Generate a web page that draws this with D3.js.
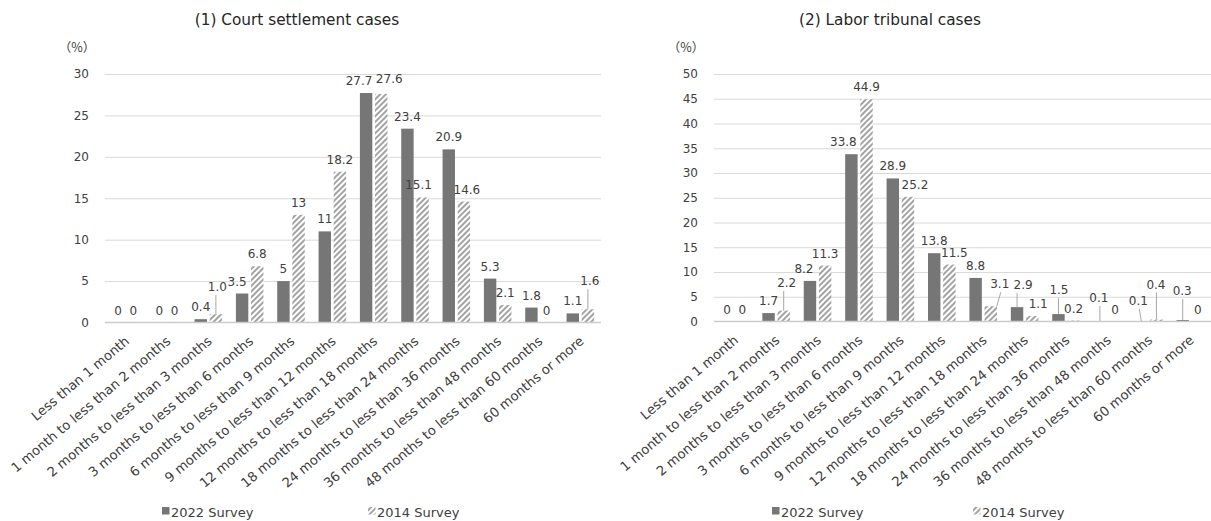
<!DOCTYPE html>
<html>
<head>
<meta charset="utf-8">
<script src="https://cdn.jsdelivr.net/npm/d3@7/dist/d3.min.js"></script>
<style>
  html, body { margin: 0; padding: 0; background: #ffffff; }
  svg { display: block; font-family: "DejaVu Sans", "Noto Sans", sans-serif; }
</style>
</head>
<body>
<svg id="chart" width="1211" height="521"></svg>
<script>
// Duration categories (shared by both panels)
const categories = [
  "Less than 1 month",
  "1 month to less than 2 months",
  "2 months to less than 3 months",
  "3 months to less than 6 months",
  "6 months to less than 9 months",
  "9 months to less than 12 months",
  "12 months to less than 18 months",
  "18 months to less than 24 months",
  "24 months to less than 36 months",
  "36 months to less than 48 months",
  "48 months to less than 60 months",
  "60 months or more"
];
const seriesNames = ["2022 Survey", "2014 Survey"];

// Shares (%), written as they are printed on the bars
const court2022 = ["0", "0", "0.4", "3.5", "5", "11", "27.7", "23.4", "20.9", "5.3", "1.8", "1.1"];
const court2014 = ["0", "0", "1.0", "6.8", "13", "18.2", "27.6", "15.1", "14.6", "2.1", "0", "1.6"];
const labor2022 = ["0", "1.7", "8.2", "33.8", "28.9", "13.8", "8.8", "2.9", "1.5", "0.1", "0.1", "0.3"];
const labor2014 = ["0", "2.2", "11.3", "44.9", "25.2", "11.5", "3.1", "1.1", "0.2", "0", "0.4", "0"];

const courtTicks = [0, 5, 10, 15, 20, 25, 30];
const laborTicks = [0, 5, 10, 15, 20, 25, 30, 35, 40, 45, 50];

const titles = ["(1) Court settlement cases", "(2) Labor tribunal cases"];
const unitLabel = "（%）";

// Label placement tweaks: dx/dy shift a label, lift raises it above the
// bar top and draws a leader line back to the bar.
const courtLabelTweaks = {
  "2022 Survey": { 3: { dx: -5 }, 6: { dx: -7 } },
  "2014 Survey": { 2: { dx: 1.5, lift: 23 }, 6: { dx: 8, dy: -3 }, 7: { dx: -4 }, 8: { dx: 3 }, 11: { dx: 2, lift: 24 } }
};
const laborLabelTweaks = {
  "2022 Survey": {
    2: { dx: -6 }, 3: { dx: -8 },
    7: { dx: 6, lift: 18 },
    8: { dx: 0.5, lift: 20 },
    9: { dx: -1, lift: 19 },
    10: { dx: -3, lift: 16, lx0: -2, lx1: 0 },
    11: { dx: -0.5, lift: 25 }
  },
  "2014 Survey": {
    1: { dx: 3, lift: 23.5 },
    4: { dx: 7 }, 5: { dx: 5 },
    6: { dx: 9, lift: 18, lx0: 10, lx1: 6 },
    7: { dx: 6 },
    10: { dx: -0.5, lift: 31 }
  }
};

const panels = [
  { title: titles[0], series: [court2022, court2014], ticks: courtTicks, tweaks: courtLabelTweaks,
    left: 105, right: 601, top: 74, bottom: 322.5, titleX: 297, unitX: 77, legendX: [162, 368] },
  { title: titles[1], series: [labor2022, labor2014], ticks: laborTicks, tweaks: laborLabelTweaks,
    left: 714, right: 1211, top: 74, bottom: 321.5, titleX: 890, unitX: 686, legendX: [772, 973] }
];

const colors = { solid: "#767676", hatch: "#a3a3a3", grid: "#d9d9d9", axis: "#cccccc", text: "#404040" };
const sizes = { tick: 12, label: 12, cat: 13.2, legend: 13, title: 15.3, unit: 12.5 };
const catAngle = -40;

const svg = d3.select("#chart");

// Diagonal stripe fill for the 2014 series
const defs = svg.append("defs");
const pat = defs.append("pattern")
  .attr("id", "hatch")
  .attr("patternUnits", "userSpaceOnUse")
  .attr("width", 4).attr("height", 4)
  .attr("patternTransform", "rotate(45)");
pat.append("rect").attr("width", 4).attr("height", 4).attr("fill", "#ffffff");
pat.append("rect").attr("width", 2).attr("height", 4).attr("fill", colors.hatch);

const fills = [colors.solid, "url(#hatch)"];

panels.forEach(p => {
  const g = svg.append("g");
  const maxV = p.ticks[p.ticks.length - 1];

  const x0 = d3.scaleBand().domain(categories).range([p.left, p.right])
    .paddingInner(0.334).paddingOuter(0.167);
  const x1 = d3.scaleBand().domain(seriesNames).range([0, x0.bandwidth()]).paddingInner(0.18);
  const y = d3.scaleLinear().domain([0, maxV]).range([p.bottom, p.top]);

  // Title and unit
  g.append("text").attr("x", p.titleX).attr("y", 25).attr("text-anchor", "middle")
    .attr("font-size", sizes.title).attr("fill", "#262626").text(p.title);
  g.append("text").attr("x", p.unitX).attr("y", 52).attr("text-anchor", "middle")
    .attr("font-size", sizes.unit).attr("fill", colors.text)
    .attr("font-family", "'Noto Sans CJK JP', sans-serif").text(unitLabel);

  // Value axis with gridlines
  const yAxis = g.append("g").attr("transform", `translate(${p.left},0)`)
    .call(d3.axisLeft(y).tickValues(p.ticks).tickSize(-(p.right - p.left)).tickPadding(16).tickFormat(d3.format("d")));
  yAxis.select(".domain").remove();
  yAxis.selectAll(".tick line").attr("stroke", colors.grid).attr("stroke-width", 1)
    .filter(d => d === 0).remove();
  yAxis.selectAll(".tick text").attr("font-size", sizes.tick).attr("fill", colors.text)
    .attr("font-family", "'DejaVu Sans', sans-serif");

  // Category axis with rotated labels
  const xAxis = g.append("g").attr("transform", `translate(0,${p.bottom})`)
    .call(d3.axisBottom(x0).tickSize(0).tickSizeOuter(0));
  xAxis.select(".domain").remove();
  xAxis.selectAll(".tick text")
    .attr("x", 0).attr("y", 0).attr("dy", 0)
    .attr("text-anchor", "end")
    .attr("transform", `translate(4.5,20) rotate(${catAngle})`)
    .attr("font-size", sizes.cat).attr("fill", colors.text)
    .attr("font-family", "'DejaVu Sans', sans-serif");

  // Bars
  const rows = categories.map((c, i) => ({
    cat: c, i,
    vals: seriesNames.map((s, k) => ({ s, k, i, label: p.series[k][i], v: +p.series[k][i] }))
  }));
  const groups = g.append("g").selectAll("g").data(rows).join("g")
    .attr("transform", d => `translate(${x0(d.cat)},0)`);
  groups.selectAll("rect").data(d => d.vals).join("rect")
    .attr("x", d => x1(d.s)).attr("width", x1.bandwidth())
    .attr("y", d => y(d.v)).attr("height", d => y(0) - y(d.v))
    .attr("fill", d => fills[d.k]);

  // Zero line
  g.append("line").attr("x1", p.left).attr("x2", p.right)
    .attr("y1", y(0)).attr("y2", y(0))
    .attr("stroke", colors.axis).attr("stroke-width", 1.4);

  // Data labels (with leader lines where raised)
  const labelG = g.append("g");
  rows.forEach(r => r.vals.forEach(d => {
    const cx = x0(r.cat) + x1(d.s) + x1.bandwidth() / 2;
    const top = y(d.v);
    const tw = (p.tweaks[d.s] || {})[d.i] || {};
    const dx = tw.dx || 0;
    const base = (tw.lift ? top - tw.lift : top - 8) + (tw.dy || 0);
    labelG.append("text").attr("x", cx + dx).attr("y", base)
      .attr("text-anchor", "middle").attr("font-size", sizes.label).attr("fill", colors.text)
      .text(d.label);
    if (tw.lift) {
      labelG.append("line")
        .attr("x1", cx + (tw.lx0 || 0)).attr("y1", base + 4)
        .attr("x2", cx + (tw.lx1 || 0)).attr("y2", top)
        .attr("stroke", "#a6a6a6").attr("stroke-width", 1);
    }
  }));

  // Legend
  const leg = g.append("g");
  seriesNames.forEach((s, k) => {
    leg.append("rect").attr("x", p.legendX[k]).attr("y", 507).attr("width", 7.5).attr("height", 7.5)
      .attr("fill", fills[k]);
    leg.append("text").attr("x", p.legendX[k] + 9).attr("y", 516.5)
      .attr("font-size", sizes.legend).attr("fill", colors.text).text(s);
  });
});
</script>
</body>
</html>
